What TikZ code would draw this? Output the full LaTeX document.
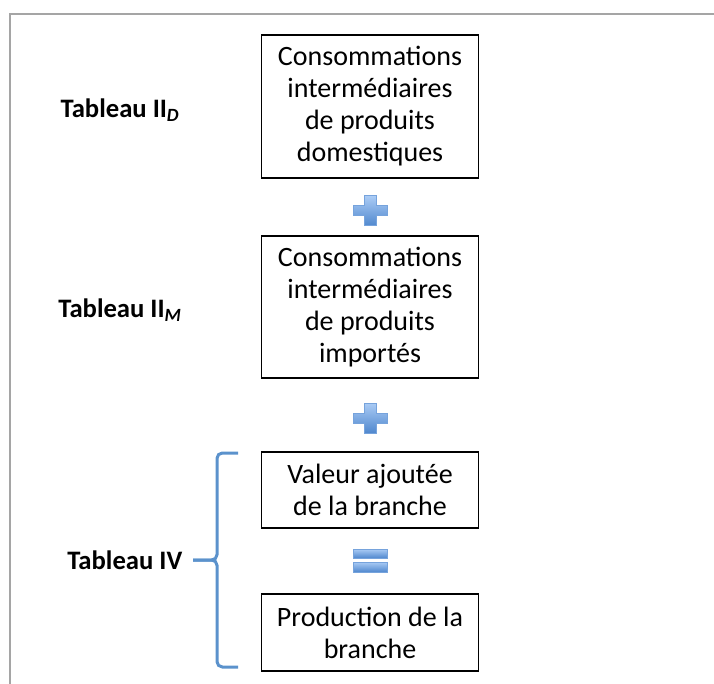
\documentclass[tikz,border=0pt]{standalone}
\usepackage{fontspec}
\setmainfont{Carlito}
\usepackage{tikz}

\definecolor{bleuacc}{RGB}{91,146,204}
\definecolor{bleuclair}{RGB}{170,203,245}
\definecolor{bleufonce}{RGB}{80,136,206}
\definecolor{bleubord}{RGB}{118,163,220}
\definecolor{cadre}{RGB}{165,165,165}

\tikzset{
	boite/.style={draw, line width=1pt, align=center, minimum width=162.75pt, inner sep=0pt,
		font=\fontsize{21}{24}\selectfont},
	tableau/.style={font=\fontsize{20}{24}\selectfont\bfseries},
	signe/.style={top color=bleuclair, bottom color=bleufonce, draw=bleubord, line width=0.75pt}
}

\begin{document}
\begin{tikzpicture}[x=0.75pt, y=-0.75pt]
	\useasboundingbox (0,0) rectangle (714,684);
	\draw[cadre, line width=1.5pt] (10,684) -- (10,14) -- (714,14);

	\node[boite, minimum height=107.25pt] (dom) at (370,106.5) {Consommations\\intermédiaires\\de produits\\domestiques};
	\node[boite, minimum height=106.5pt] (imp) at (370,307) {Consommations\\intermédiaires\\de produits\\importés};
	\node[boite, minimum height=57pt] (va) at (370,490) {Valeur ajoutée\\de la branche};
	\node[boite, minimum height=57.75pt] (prod) at (370,632.5) {Production de la\\branche};

	\node[tableau] (tabD) at (120,110) {Tableau II\textsubscript{\itshape D}};
	\node[tableau] (tabM) at (120,310) {Tableau II\textsubscript{\itshape M}};
	\node[tableau, anchor=east] (tabIV) at (187,560) {Tableau IV};

	% signes plus et egal
	\foreach \y in {211,418} {
		\shadedraw[signe] (364,\y-15) -- (376,\y-15) -- (376,\y-5) -- (387,\y-5) -- (387,\y+5)
			-- (376,\y+5) -- (376,\y+15) -- (364,\y+15) -- (364,\y+5) -- (353,\y+5)
			-- (353,\y-5) -- (364,\y-5) -- cycle;
	}
	\shadedraw[signe] (353,549) rectangle (387,558);
	\shadedraw[signe] (353,562) rectangle (387,572);

	% accolade
	\coordinate (pointe) at (193,560);
	\draw[bleuacc, line width=2.25pt, rounded corners=4pt]
		(238,453) -- (217,453) -- (217,560) -- (pointe);
	\draw[bleuacc, line width=2.25pt, rounded corners=4pt]
		(pointe) -- (217,560) -- (217,667) -- (238,667);
\end{tikzpicture}
\end{document}
